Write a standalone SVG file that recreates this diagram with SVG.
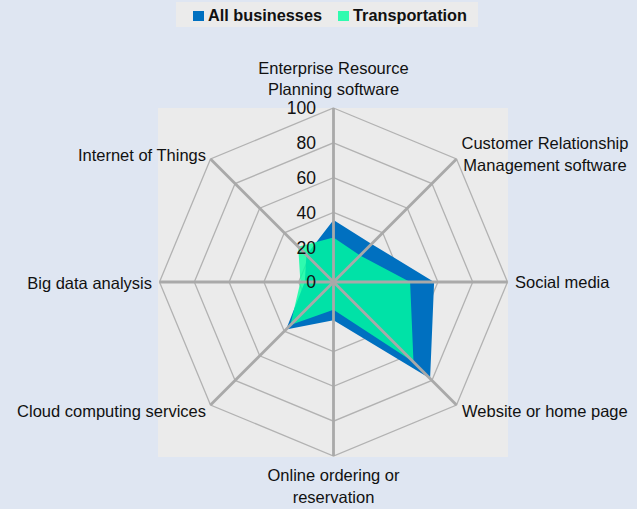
<svg xmlns="http://www.w3.org/2000/svg" width="637" height="509" viewBox="0 0 637 509">
<style>
text{font-family:"Liberation Sans",Arial,sans-serif;fill:#111;}
.lbl{font-size:16.5px;}
.tick{font-size:17.5px;text-anchor:end;}
.leg{font-size:16.3px;font-weight:bold;}
.grid{fill:none;stroke:#B2B2B2;stroke-width:1.3;}
.spoke{stroke:#A9A9A9;stroke-width:2.8;}
</style>
<rect x="0" y="0" width="637" height="509" fill="#DFE6F2"/>
<g id="legend">
<rect x="176" y="2" width="302" height="25" fill="#EBEBEB"/>
<rect x="193" y="11" width="11" height="10" fill="#0070C0"/>
<text class="leg" x="208" y="21">All businesses</text>
<rect x="338" y="11" width="11" height="10" fill="#2FFBAF"/>
<text class="leg" x="353" y="21">Transportation</text>
</g>
<g id="plot-area">
<rect x="158" y="108" width="350" height="349" fill="#EBEBEB"/>
</g>
<g id="gridlines">
<polygon class="grid" points="333.5,247.2 358.1,257.4 368.3,282 358.1,306.6 333.5,316.8 308.9,306.6 298.7,282 308.9,257.4"/>
<polygon class="grid" points="333.5,212.4 382.7,232.8 403.1,282 382.7,331.2 333.5,351.6 284.3,331.2 263.9,282 284.3,232.8"/>
<polygon class="grid" points="333.5,177.6 407.3,208.2 437.9,282 407.3,355.8 333.5,386.4 259.7,355.8 229.1,282 259.7,208.2"/>
<polygon class="grid" points="333.5,142.8 431.9,183.6 472.7,282 431.9,380.4 333.5,421.2 235.1,380.4 194.3,282 235.1,183.6"/>
<polygon class="grid" points="333.5,108 456.5,159 507.5,282 456.5,405 333.5,456 210.5,405 159.5,282 210.5,159"/>
</g>
<g id="series-all-businesses">
<polygon fill="#0070C0" points="333.5,220.1 371.6,243.9 434.1,282 430.1,378.6 333.5,320.3 286.1,329.4 304.8,282 306.4,254.9"/>
</g>
<g id="series-transportation">
<polygon fill="#00FFA0" fill-opacity="0.8" points="333.5,237.6 360.1,255.4 410.1,282 413.5,362 333.5,309.8 290.4,325.1 300.4,282 298.2,246.7"/>
</g>
<g id="axes">
<line class="spoke" x1="333.5" y1="282" x2="333.5" y2="108"/>
<line class="spoke" x1="333.5" y1="282" x2="456.5" y2="159"/>
<line class="spoke" x1="333.5" y1="282" x2="507.5" y2="282"/>
<line class="spoke" x1="333.5" y1="282" x2="456.5" y2="405"/>
<line class="spoke" x1="333.5" y1="282" x2="333.5" y2="456"/>
<line class="spoke" x1="333.5" y1="282" x2="210.5" y2="405"/>
<line class="spoke" x1="333.5" y1="282" x2="159.5" y2="282"/>
<line class="spoke" x1="333.5" y1="282" x2="210.5" y2="159"/>
</g>
<g id="tick-labels">
<text class="tick" x="316" y="114">100</text>
<text class="tick" x="316" y="149">80</text>
<text class="tick" x="316" y="184">60</text>
<text class="tick" x="316" y="219">40</text>
<text class="tick" x="316" y="254">20</text>
<text class="tick" x="316" y="288">0</text>
</g>
<g id="category-labels">
<text class="lbl" x="333.5" y="74" text-anchor="middle">Enterprise Resource</text>
<text class="lbl" x="333.5" y="95" text-anchor="middle">Planning software</text>
<text class="lbl" x="545" y="149" text-anchor="middle">Customer Relationship</text>
<text class="lbl" x="545" y="171" text-anchor="middle">Management software</text>
<text class="lbl" x="515" y="288">Social media</text>
<text class="lbl" x="462" y="417">Website or home page</text>
<text class="lbl" x="333.5" y="481" text-anchor="middle">Online ordering or</text>
<text class="lbl" x="333.5" y="503" text-anchor="middle">reservation</text>
<text class="lbl" x="206" y="417" text-anchor="end">Cloud computing services</text>
<text class="lbl" x="152" y="289" text-anchor="end">Big data analysis</text>
<text class="lbl" x="206" y="161" text-anchor="end">Internet of Things</text>
</g>
</svg>
